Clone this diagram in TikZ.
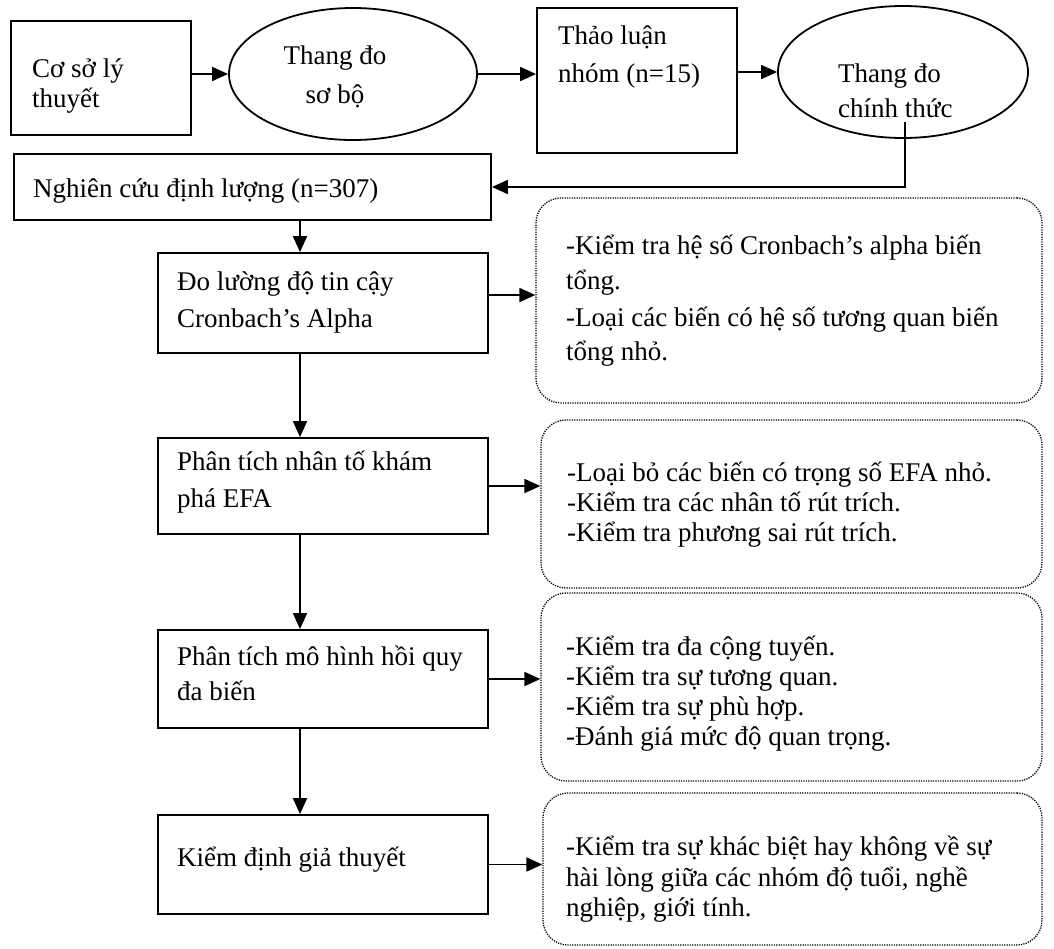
\documentclass[tikz,border=0pt]{standalone}
\usepackage{fontspec}
\setmainfont{Liberation Serif}
\usetikzlibrary{arrows.meta,shapes.geometric}
\begin{document}
\begin{tikzpicture}[x=1pt,y=-1pt,
  box/.style={draw,line width=1.8pt,rectangle,inner sep=0pt},
  ell/.style={draw,line width=1.8pt,ellipse,inner sep=0pt},
  note/.style={draw,line width=1.3pt,dash pattern=on 1.2pt off 1.2pt,rounded corners=25pt,inner sep=0pt},
  txt/.style={anchor=base west,inner sep=0pt,font=\fontsize{27pt}{31pt}\selectfont},
  ctxt/.style={anchor=base,inner sep=0pt,font=\fontsize{27pt}{31pt}\selectfont},
  arr/.style={line width=1.8pt,-{Triangle[length=16pt,width=14pt]}}]
\useasboundingbox[fill=white] (0,0) rectangle (1054,948);

% shapes
\node[box,minimum width=180pt,minimum height=114pt] (b1) at (101,78) {};
\node[ell,minimum width=248pt,minimum height=132pt] (e1) at (353,74) {};
\node[box,minimum width=200pt,minimum height=145pt] (b3) at (637,80.5) {};
\node[ell,minimum width=250pt,minimum height=132pt] (e2) at (903,72) {};
\node[box,minimum width=477pt,minimum height=66pt] (nq) at (252.5,187) {};
\node[box,minimum width=330pt,minimum height=100pt] (s1) at (323,303) {};
\node[box,minimum width=330pt,minimum height=96pt] (s2) at (323,486) {};
\node[box,minimum width=330pt,minimum height=98pt] (s3) at (323,679) {};
\node[box,minimum width=330pt,minimum height=99pt] (s4) at (323,864.5) {};
\node[note,minimum width=506pt,minimum height=205pt] (d1) at (789,300.5) {};
\node[note,minimum width=501pt,minimum height=168pt] (d2) at (791.5,504) {};
\node[note,minimum width=501pt,minimum height=188pt] (d3) at (791.5,687) {};
\node[note,minimum width=499pt,minimum height=152pt] (d4) at (792.5,869) {};

% texts
\node[txt] (t1a) at (32,77) {Cơ sở lý};
\node[txt] (t1b) at (32,107) {thuyết};
\node[ctxt] (t2a) at (335,64) {Thang đo};
\node[ctxt] (t2b) at (335,103) {sơ bộ};
\node[txt] (t3a) at (558,44) {Thảo luận};
\node[txt] (t3b) at (558,82) {nhóm (n=15)};
\node[txt] (t4a) at (838,82) {Thang đo};
\node[txt] (t4b) at (838,117) {chính thức};
\node[txt] (t5) at (33,197) {Nghiên cứu định lượng (n=307)};
\node[txt] (t6a) at (177,290) {Đo lường độ tin cậy};
\node[txt] (t6b) at (177,327) {Cronbach’s Alpha};
\node[txt] (t7a) at (177,470) {Phân tích nhân tố khám};
\node[txt] (t7b) at (177,507) {phá EFA};
\node[txt] (t8a) at (177,665) {Phân tích mô hình hồi quy};
\node[txt] (t8b) at (177,700) {đa biến};
\node[txt] (t9) at (177,866) {Kiểm định giả thuyết};
\node[txt] (n1a) at (566,254) {-Kiểm tra hệ số Cronbach’s alpha biến};
\node[txt] (n1b) at (566,289) {tổng.};
\node[txt] (n1c) at (566,326) {-Loại các biến có hệ số tương quan biến};
\node[txt] (n1d) at (566,360) {tổng nhỏ.};
\node[txt] (n2a) at (567,481) {-Loại bỏ các biến có trọng số EFA nhỏ.};
\node[txt] (n2b) at (567,511) {-Kiểm tra các nhân tố rút trích.};
\node[txt] (n2c) at (567,541) {-Kiểm tra phương sai rút trích.};
\node[txt] (n3a) at (566,655) {-Kiểm tra đa cộng tuyến.};
\node[txt] (n3b) at (566,685) {-Kiểm tra sự tương quan.};
\node[txt] (n3c) at (566,715) {-Kiểm tra sự phù hợp.};
\node[txt] (n3d) at (566,745) {-Đánh giá mức độ quan trọng.};
\node[txt] (n4a) at (566,855) {-Kiểm tra sự khác biệt hay không về sự};
\node[txt] (n4b) at (566,886) {hài lòng giữa các nhóm độ tuổi, nghề};
\node[txt] (n4c) at (566,916) {nghiệp, giới tính.};

% helper coordinates
\coordinate (ax) at (300,0);
\coordinate (c1) at (905,122);
\coordinate (r1) at (0,295);

% connectors
\draw[arr] (b1.east |- e1.west) -- (e1.west);
\draw[arr] (e1.east) -- (e1.east -| b3.west);
\draw[arr] (b3.east |- e2.west) -- (e2.west);
\draw[arr] (c1) |- (nq.east);
\draw[arr] (nq.south -| ax) -- (s1.north -| ax);
\draw[arr] (s1.south -| ax) -- (s2.north -| ax);
\draw[arr] (s2.south -| ax) -- (s3.north -| ax);
\draw[arr] (s3.south -| ax) -- (s4.north -| ax);
\draw[arr] (s1.east |- r1) -- (d1.west |- r1);
\draw[arr] (s2.east) -- (s2.east -| d2.west);
\draw[arr] (s3.east) -- (s3.east -| d3.west);
\draw[arr] (s4.east) -- (s4.east -| d4.west);
\end{tikzpicture}
\end{document}
